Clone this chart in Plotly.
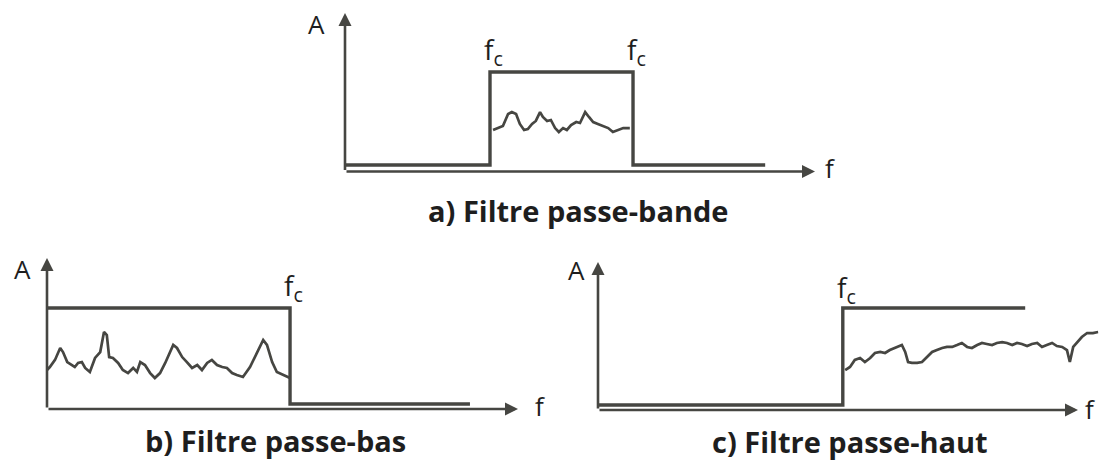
import plotly.graph_objects as go

# Filtre passe-bande (a)
bande_x = [0, 30.85, 30.85, 61.28, 61.28, 89.4]
bande_y = [0.41, 0.41, 6.28, 6.28, 0.41, 0.41]
bande_sig_x = [31.5, 32.6, 33.6, 34.7, 35.5, 36.4, 37.2, 38.1, 38.9, 39.8, 40.6, 41.5, 42.1, 43.0, 43.8, 44.7,
               45.5, 46.4, 47.2, 48.1, 49.2, 50.0, 51.1, 51.9, 52.8, 53.8, 54.9, 56.0, 57.0, 58.1, 59.2, 60.6]
bande_sig_y = [2.62, 2.74, 2.87, 3.63, 3.75, 3.63, 3.00, 2.62, 2.68, 3.00, 3.19, 3.75, 3.44, 3.19, 3.25, 2.74,
               2.49, 2.74, 2.62, 2.93, 3.12, 3.06, 3.75, 3.44, 3.12, 3.00, 2.87, 2.74, 2.49, 2.62, 2.74, 2.74]

# Filtre passe-bas (b)
bas_x = [0, 51.6, 51.6, 89.8]
bas_y = [6.69, 6.69, 0.33, 0.33]
bas_sig_x = [0, 0.6, 1.7, 2.8, 3.4, 4.3, 5.3, 5.9, 6.6, 7.4, 8.1, 9.1, 10.2, 11.3, 12.1, 12.7, 13.2, 14.0,
             15.1, 16.1, 17.2, 18.3, 19.1, 19.8, 20.8, 21.9, 22.9, 24.0, 25.1, 26.1, 26.8, 27.6, 28.7, 29.7,
             30.8, 31.9, 32.9, 34.0, 35.0, 36.1, 37.2, 38.2, 39.3, 40.3, 41.6, 43.1, 44.6, 45.9, 46.7, 47.8,
             48.8, 50.1, 51.6]
bas_sig_y = [2.58, 2.78, 3.25, 4.04, 3.77, 3.11, 2.91, 2.78, 3.05, 3.11, 2.72, 2.45, 3.38, 3.77, 5.10, 4.90,
             3.44, 3.38, 3.05, 2.58, 2.38, 2.72, 2.45, 3.11, 2.91, 2.38, 2.05, 2.38, 3.05, 3.71, 4.24, 4.04,
             3.44, 3.11, 2.72, 2.91, 2.58, 3.05, 3.25, 2.91, 2.78, 2.72, 2.38, 2.25, 2.12, 2.78, 3.71, 4.57,
             4.24, 3.11, 2.45, 2.25, 2.05]

# Filtre passe-haut (c)
haut_x = [0, 51.0, 51.0, 89.0]
haut_y = [0.34, 0.34, 6.89, 6.89]
haut_sig_x = [51.5, 52.5, 53.5, 54.6, 55.6, 56.7, 57.7, 58.8, 59.8, 60.8, 62.3, 63.3, 64.0, 64.6, 65.4, 66.5,
              67.5, 68.5, 69.6, 70.6, 71.7, 72.7, 73.8, 74.8, 75.8, 76.9, 77.9, 79.0, 80.0, 81.0, 82.1, 83.1,
              84.2, 85.2, 86.3, 87.3, 88.3, 89.4, 90.4, 91.5, 92.5, 93.5, 94.6, 95.6, 96.7, 97.7, 98.3, 99.0,
              99.8, 100.8, 101.9, 103.1, 104.2]
haut_sig_y = [2.70, 2.91, 3.38, 3.51, 3.24, 3.51, 3.85, 3.92, 3.85, 4.05, 4.26, 4.39, 3.92, 3.24, 3.18, 3.18,
              3.24, 3.58, 3.92, 4.05, 4.19, 4.26, 4.26, 4.39, 4.53, 4.26, 4.19, 4.39, 4.53, 4.46, 4.39, 4.53,
              4.59, 4.53, 4.39, 4.53, 4.46, 4.32, 4.46, 4.53, 4.26, 4.39, 4.53, 4.32, 4.26, 4.05, 3.24, 4.26,
              4.59, 4.93, 5.20, 5.20, 5.27]

titres = ["a) Filtre passe-bande", "b) Filtre passe-bas", "c) Filtre passe-haut"]

# longueur des axes (unités)
F_MAX, A_MAX = 100, 10

LINE = "#464642"
TXT = "#1e1e1e"
FONT = "Open Sans"
W, H = 1099, 461

panels = [
    # origine (px), échelle px/unité, plage d'axes, positions des textes (unités)
    dict(ax="", filt=(bande_x, bande_y), sig=(bande_sig_x, bande_sig_y),
         o=(345, 171.5), s=(4.7, 15.85), xr=[-8, 106], yr=[-3.0, 10.8],
         fc=[30.85, 61.28], fc_y=7.6, A=(-6, 9.3), f=(103.2, 0.2), titre=(49.6, -2.45)),
    dict(ax="2", filt=(bas_x, bas_y), sig=(bas_sig_x, bas_sig_y),
         o=(47, 409), s=(4.71, 15.1), xr=[-7, 106], yr=[-3.0, 10.5],
         fc=[51.6], fc_y=8.1, A=(-5.3, 9.3), f=(104.7, 0.2), titre=(48.6, -2.1)),
    dict(ax="3", filt=(haut_x, haut_y), sig=(haut_sig_x, haut_sig_y),
         o=(598, 410), s=(4.8, 14.8), xr=[-6, 104.3], yr=[-3.0, 10.5],
         fc=[51.0], fc_y=8.2, A=(-4.4, 9.46), f=(102.5, 0.1), titre=(52.5, -2.1)),
]

fig = go.Figure()
annotations = []
layout_axes = {}

for i, p in enumerate(panels):
    xa, ya = "x" + p["ax"], "y" + p["ax"]

    fig.add_trace(go.Scatter(x=p["filt"][0], y=p["filt"][1], mode="lines",
                             line=dict(color=LINE, width=3.4), xaxis=xa, yaxis=ya,
                             showlegend=False, hoverinfo="skip"))
    fig.add_trace(go.Scatter(x=p["sig"][0], y=p["sig"][1], mode="lines",
                             line=dict(color=LINE, width=2.7), xaxis=xa, yaxis=ya,
                             showlegend=False, hoverinfo="skip"))

    # axes avec flèches
    for hx, hy in [(F_MAX, 0), (0, A_MAX)]:
        annotations.append(dict(x=hx, y=hy, ax=0, ay=0, xref=xa, yref=ya, axref=xa, ayref=ya,
                                showarrow=True, arrowhead=2, arrowsize=1.0, arrowwidth=2.6,
                                arrowcolor=LINE, text=""))

    annotations.append(dict(x=p["A"][0], y=p["A"][1], xref=xa, yref=ya, text="A", showarrow=False,
                            font=dict(family=FONT, size=26, color=TXT)))
    annotations.append(dict(x=p["f"][0], y=p["f"][1], xref=xa, yref=ya, text="f", showarrow=False,
                            font=dict(family=FONT, size=26, color=TXT)))
    for fx in p["fc"]:
        annotations.append(dict(x=fx + 0.8, y=p["fc_y"], xref=xa, yref=ya, text="f<sub>c</sub>",
                                showarrow=False, font=dict(family=FONT, size=28, color=TXT)))
    annotations.append(dict(x=p["titre"][0], y=p["titre"][1], xref=xa, yref=ya,
                            text="<b>" + titres[i] + "</b>", showarrow=False,
                            font=dict(family=FONT, size=29, color=TXT)))

    (ox, oy), (sx, sy) = p["o"], p["s"]
    xdom = [max(0, (ox + p["xr"][0] * sx) / W), min(1, (ox + p["xr"][1] * sx) / W)]
    ydom = [max(0, 1 - (oy - p["yr"][0] * sy) / H), min(1, 1 - (oy - p["yr"][1] * sy) / H)]
    layout_axes["xaxis" + p["ax"]] = dict(domain=xdom, range=p["xr"], visible=False, fixedrange=True,
                                          anchor=ya)
    layout_axes["yaxis" + p["ax"]] = dict(domain=ydom, range=p["yr"], visible=False, fixedrange=True,
                                          anchor=xa)

fig.update_layout(
    width=W, height=H,
    margin=dict(l=0, r=0, t=0, b=0),
    paper_bgcolor="white", plot_bgcolor="white",
    annotations=annotations,
    **layout_axes
)

# page sans marge pour que la figure occupe toute la fenêtre
fig.write_html("out.html", config={"displayModeBar": False},
               post_script="document.body.style.margin='0';document.body.style.overflow='hidden';")
